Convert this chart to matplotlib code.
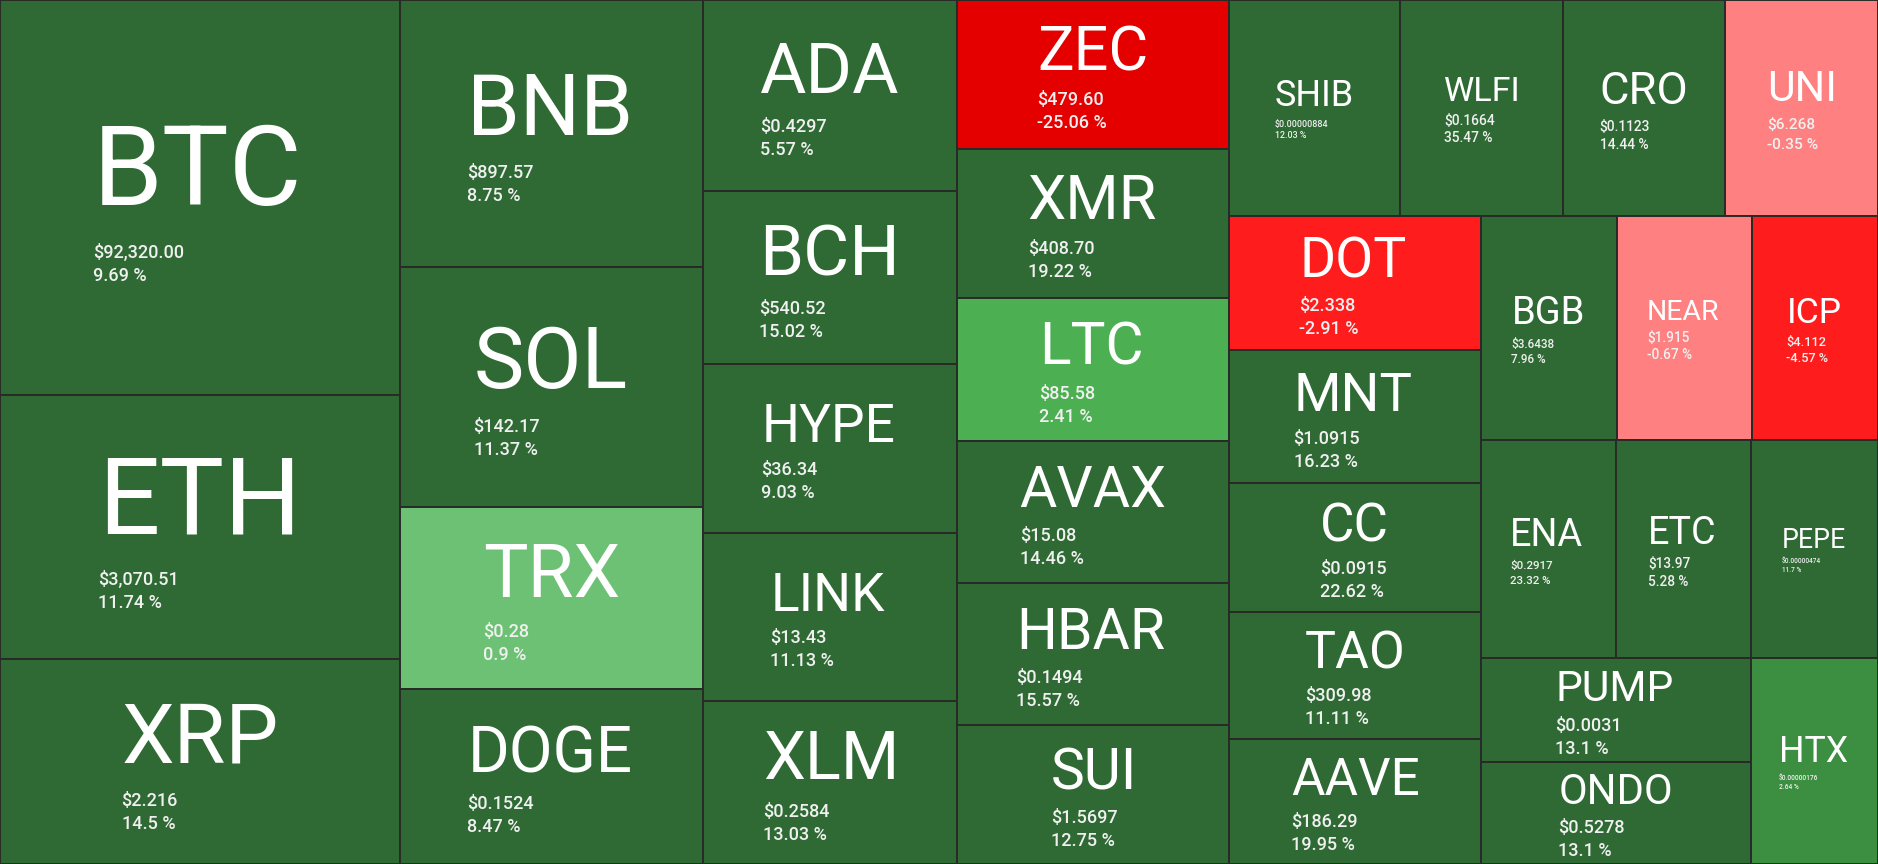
import matplotlib
matplotlib.use('Agg')
import matplotlib.pyplot as plt
from matplotlib.patches import Rectangle
from matplotlib.textpath import TextPath
from matplotlib.font_manager import FontProperties

plt.rcParams['font.family'] = ['Roboto', 'DejaVu Sans']

# datos del mapa (orden de mayor a menor capitalizacion, tal como se dibuja)
monedas = ['BTC', 'ETH', 'XRP', 'BNB', 'SOL', 'TRX', 'DOGE', 'ADA', 'BCH', 'HYPE', 'LINK', 'XLM',
           'ZEC', 'XMR', 'LTC', 'AVAX', 'HBAR', 'SUI', 'SHIB', 'WLFI', 'CRO', 'UNI',
           'DOT', 'MNT', 'CC', 'TAO', 'AAVE', 'BGB', 'NEAR', 'ICP', 'ENA', 'ETC', 'PEPE',
           'PUMP', 'ONDO', 'HTX']
# peso relativo de cada moneda (area de la celda)
pesos = [158000, 105600, 82000, 80900, 72700, 55100, 53000, 48500, 43900, 42900, 42700, 41400,
         40500, 40500, 38900, 38600, 38600, 37800, 37000, 35100, 34900, 33000,
         34000, 33500, 32500, 32000, 31500, 30600, 30400, 28400, 29400, 29400, 27700,
         28100, 27500, 26200]
precios = ['$92,320.00', '$3,070.51', '$2.216', '$897.57', '$142.17', '$0.28', '$0.1524',
           '$0.4297', '$540.52', '$36.34', '$13.43', '$0.2584',
           '$479.60', '$408.70', '$85.58', '$15.08', '$0.1494', '$1.5697',
           '$0.00000884', '$0.1664', '$0.1123', '$6.268',
           '$2.338', '$1.0915', '$0.0915', '$309.98', '$186.29',
           '$3.6438', '$1.915', '$4.112', '$0.2917', '$13.97', '$0.00000474',
           '$0.0031', '$0.5278', '$0.00000176']
cambios = [9.69, 11.74, 14.5, 8.75, 11.37, 0.9, 8.47, 5.57, 15.02, 9.03, 11.13, 13.03,
           -25.06, 19.22, 2.41, 14.46, 15.57, 12.75, 12.03, 35.47, 14.44, -0.35,
           -2.91, 16.23, 22.62, 11.11, 19.95, 7.96, -0.67, -4.57, 23.32, 5.28, 11.7,
           13.1, 13.1, 2.64]

ANCHO, ALTO = 1878, 864
PHI = (1 + 5 ** 0.5) / 2


def squarify(valores, x0, y0, x1, y1, ratio=PHI):
    # mismo criterio que d3.treemapSquarify
    rects = [None] * len(valores)
    total = float(sum(valores))
    n = len(valores)
    i0 = 0
    while i0 < n:
        dx, dy = x1 - x0, y1 - y0
        i1 = i0 + 1
        suma = valores[i0]
        vmin = vmax = suma
        alpha = max(dy / dx, dx / dy) / (total * ratio)
        beta = suma * suma * alpha
        min_ratio = max(vmax / beta, beta / vmin)
        while i1 < n:
            v = valores[i1]
            suma += v
            vmin = min(vmin, v)
            vmax = max(vmax, v)
            beta = suma * suma * alpha
            nuevo = max(vmax / beta, beta / vmin)
            if nuevo > min_ratio:
                suma -= v
                break
            min_ratio = nuevo
            i1 += 1
        if dx < dy:
            yb = y0 + dy * suma / total
            xx = x0
            for k in range(i0, i1):
                w = dx * valores[k] / suma
                rects[k] = (xx, y0, w, yb - y0)
                xx += w
            y0 = yb
        else:
            xb = x0 + dx * suma / total
            yy = y0
            for k in range(i0, i1):
                h = dy * valores[k] / suma
                rects[k] = (x0, yy, xb - x0, h)
                yy += h
            x0 = xb
        total -= suma
        i0 = i1
    return rects


def color_cambio(c):
    if c <= -10:
        return '#e50000'
    if c <= -1:
        return '#ff1c1c'
    if c < 0:
        return '#ff8080'
    if c < 2:
        return '#6dc174'
    if c < 2.5:
        return '#4caf52'
    if c < 5:
        return '#3c8e41'
    return '#2f6a34'


fp = FontProperties(family='Roboto')


def tinta(s):
    bb = TextPath((0, 0), s, size=10, prop=fp).get_extents()
    return bb.x0 / 10, bb.x1 / 10


fig = plt.figure(figsize=(ANCHO / 100, ALTO / 100), dpi=100)
ax = fig.add_axes([0, 0, 1, 1])
ax.set_xlim(0, ANCHO)
ax.set_ylim(ALTO, 0)
ax.axis('off')

celdas = squarify(pesos, 0, 0, ANCHO, ALTO)
for i, (x, y, w, h) in enumerate(celdas):
    ax.add_patch(Rectangle((x, y), w, h, facecolor=color_cambio(cambios[i]),
                           edgecolor='#272b27', linewidth=1.4))
    # tamanos en pixeles
    tp = min(0.84 * w / len(monedas[i]), 0.41 * h)
    t0, t1 = tinta(monedas[i])
    p0, p1 = tinta(precios[i])
    pp = min(18, 0.30 * w / (p1 - p0))
    cap = 0.711 * tp
    hueco = 0.33 * tp + 2.5
    alto_bloque = cap + hueco + 0.711 * pp + 1.28 * pp
    cx, cy = x + w / 2, y + h / 2
    arriba = cy - alto_bloque / 2 + 0.05 * tp
    base_t = arriba + cap
    base_p = base_t + hueco + 0.711 * pp
    base_c = base_p + 1.28 * pp
    xl = cx - (t0 + t1) / 2 * tp
    ax.text(xl, base_t, monedas[i], fontsize=tp * 0.72, color='white',
            ha='left', va='baseline')
    ax.text(xl, base_p, precios[i], fontsize=pp * 0.72, color='#f0f0f0',
            fontweight='medium', ha='left', va='baseline')
    ax.text(xl, base_c, f'{cambios[i]:g} %', fontsize=pp * 0.72, color='#f0f0f0',
            fontweight='medium', ha='left', va='baseline')

fig.savefig('out.png', dpi=100)
